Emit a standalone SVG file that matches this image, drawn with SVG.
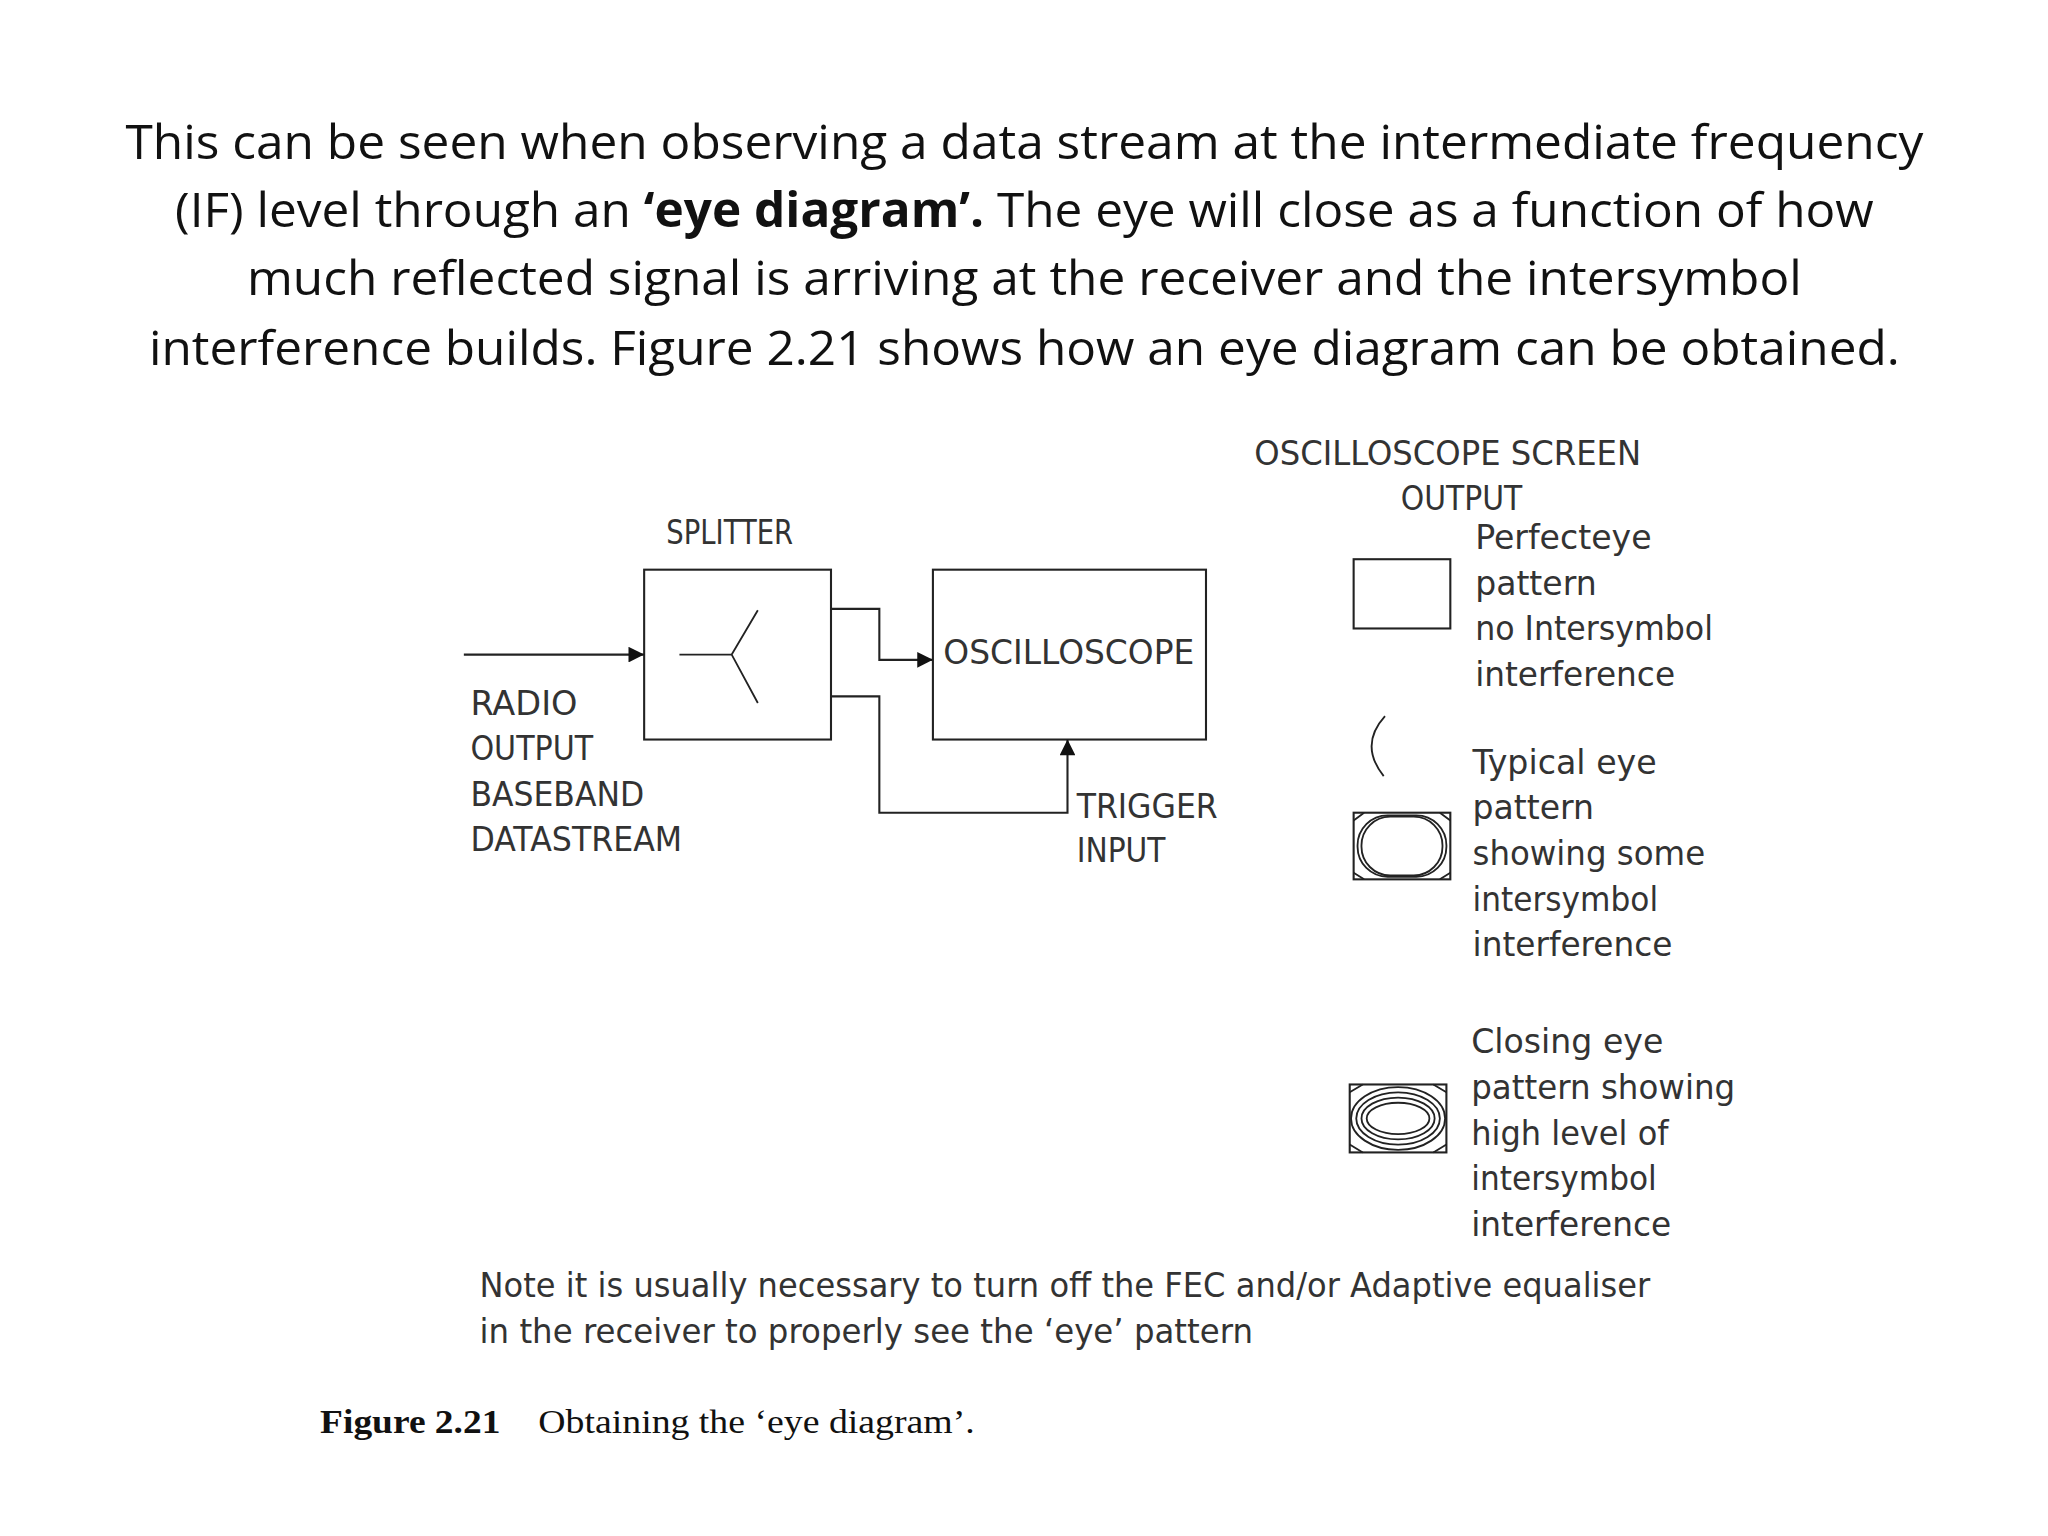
<svg xmlns="http://www.w3.org/2000/svg" width="2048" height="1536" viewBox="0 0 2048 1536">
<defs>
<marker id="ah" viewBox="0 0 10 10" refX="10" refY="5" markerWidth="14" markerHeight="12" markerUnits="userSpaceOnUse" orient="auto"><path d="M0,0 L10,5 L0,10 z" fill="#111"/></marker>
</defs>
<style>
.h{font-family:"Open Sans","Liberation Sans",sans-serif;font-size:37px;fill:#111;text-anchor:middle}
.l{font-family:"DejaVu Sans","Liberation Sans",sans-serif;font-size:26px;fill:#333}
.c{font-family:"Liberation Serif",serif;font-size:26px;fill:#111}
.b{fill:none;stroke:#222;stroke-width:1.6}
.w{fill:none;stroke:#222;stroke-width:1.4}
</style>
<rect width="2048" height="1536" fill="#fff"/>
<g transform="scale(1.3066)">
<g id="heading">
<text class="h" x="784" y="122" textLength="1376" lengthAdjust="spacingAndGlyphs">This can be seen when observing a data stream at the intermediate frequency</text>
<text class="h" x="784" y="174" textLength="1300" lengthAdjust="spacingAndGlyphs">(IF) level through an <tspan font-weight="bold">‘eye diagram’.</tspan> The eye will close as a function of how</text>
<text class="h" x="784" y="226" textLength="1190" lengthAdjust="spacingAndGlyphs">much reflected signal is arriving at the receiver and the intersymbol</text>
<text class="h" x="784" y="279" textLength="1340" lengthAdjust="spacingAndGlyphs">interference builds. Figure 2.21 shows how an eye diagram can be obtained.</text>
</g>
<g id="splitter">
<text class="l" x="510" y="416" textLength="97" lengthAdjust="spacingAndGlyphs">SPLITTER</text>
<rect class="b" x="493" y="436" width="143" height="130"/>
<path class="w" d="M520,501 H560 M580,467 L560,501 L580,538"/>
</g>
<g id="oscilloscope">
<rect class="b" x="714" y="436" width="209" height="130"/>
<text class="l" x="722" y="508" textLength="192" lengthAdjust="spacingAndGlyphs">OSCILLOSCOPE</text>
</g>
<g id="radio-label">
<text class="l" x="360" y="547" textLength="82" lengthAdjust="spacingAndGlyphs">RADIO</text>
<text class="l" x="360" y="582" textLength="94" lengthAdjust="spacingAndGlyphs">OUTPUT</text>
<text class="l" x="360" y="617" textLength="133" lengthAdjust="spacingAndGlyphs">BASEBAND</text>
<text class="l" x="360" y="651" textLength="162" lengthAdjust="spacingAndGlyphs">DATASTREAM</text>
</g>
<g id="trigger-label">
<text class="l" x="824" y="626" textLength="108" lengthAdjust="spacingAndGlyphs">TRIGGER</text>
<text class="l" x="824" y="660" textLength="68" lengthAdjust="spacingAndGlyphs">INPUT</text>
</g>
<g id="connectors">
<path class="b" d="M355,501 H493" marker-end="url(#ah)"/>
<path class="b" d="M636,466 H673 V505 H714" marker-end="url(#ah)"/>
<path class="b" d="M636,533 H673 V622 H817 V566" marker-end="url(#ah)"/>
</g>
<g id="screen-title">
<text class="l" x="960" y="356" textLength="296" lengthAdjust="spacingAndGlyphs">OSCILLOSCOPE SCREEN</text>
<text class="l" x="1072" y="390" textLength="93" lengthAdjust="spacingAndGlyphs">OUTPUT</text>
</g>
<g id="perfect-eye">
<rect class="b" x="1036" y="428" width="74" height="53"/>
<text class="l" x="1129" y="420" textLength="135" lengthAdjust="spacingAndGlyphs">Perfecteye</text>
<text class="l" x="1129" y="455" textLength="93" lengthAdjust="spacingAndGlyphs">pattern</text>
<text class="l" x="1129" y="490" textLength="182" lengthAdjust="spacingAndGlyphs">no Intersymbol</text>
<text class="l" x="1129" y="525" textLength="153" lengthAdjust="spacingAndGlyphs">interference</text>
</g>
<g id="typical-eye">
<path class="w" d="M1060,548 Q1040,570 1059,594"/>
<rect class="b" x="1036" y="622" width="74" height="51"/>
<rect class="w" x="1039" y="624" width="68" height="47" rx="23" ry="23"/>
<rect class="w" x="1042" y="625" width="62" height="45" rx="22" ry="22"/>
<path class="w" d="M1036,628 L1044,622 M1036,668 L1044,673 M1110,628 L1102,622 M1110,668 L1102,673"/>
<text class="l" x="1127" y="592" textLength="141" lengthAdjust="spacingAndGlyphs">Typical eye</text>
<text class="l" x="1127" y="627" textLength="93" lengthAdjust="spacingAndGlyphs">pattern</text>
<text class="l" x="1127" y="662" textLength="178" lengthAdjust="spacingAndGlyphs">showing some</text>
<text class="l" x="1127" y="697" textLength="142" lengthAdjust="spacingAndGlyphs">intersymbol</text>
<text class="l" x="1127" y="732" textLength="153" lengthAdjust="spacingAndGlyphs">interference</text>
</g>
<g id="closing-eye">
<rect class="b" x="1033" y="830" width="74" height="52" fill="#e6e6e6"/>
<ellipse class="w" cx="1070" cy="856" rx="36" ry="24"/>
<ellipse class="w" cx="1070" cy="856" rx="32" ry="20"/>
<ellipse class="w" cx="1070" cy="856" rx="28" ry="16" fill="#fff"/>
<ellipse class="w" cx="1070" cy="856" rx="24" ry="12"/>
<path class="w" d="M1033,836 L1043,830 M1033,876 L1043,882 M1107,836 L1097,830 M1107,876 L1097,882"/>
<text class="l" x="1126" y="806" textLength="147" lengthAdjust="spacingAndGlyphs">Closing eye</text>
<text class="l" x="1126" y="841" textLength="202" lengthAdjust="spacingAndGlyphs">pattern showing</text>
<text class="l" x="1126" y="876" textLength="151" lengthAdjust="spacingAndGlyphs">high level of</text>
<text class="l" x="1126" y="911" textLength="142" lengthAdjust="spacingAndGlyphs">intersymbol</text>
<text class="l" x="1126" y="946" textLength="153" lengthAdjust="spacingAndGlyphs">interference</text>
</g>
<g id="note">
<text class="l" x="367" y="993" textLength="896" lengthAdjust="spacingAndGlyphs">Note it is usually necessary to turn off the FEC and/or Adaptive equaliser</text>
<text class="l" x="367" y="1028" textLength="592" lengthAdjust="spacingAndGlyphs">in the receiver to properly see the ‘eye’ pattern</text>
</g>
<g id="caption">
<text class="c" x="245" y="1097" font-weight="bold" textLength="138" lengthAdjust="spacingAndGlyphs">Figure 2.21</text>
<text class="c" x="412" y="1097" textLength="334" lengthAdjust="spacingAndGlyphs">Obtaining the ‘eye diagram’.</text>
</g>
</g>
</svg>
